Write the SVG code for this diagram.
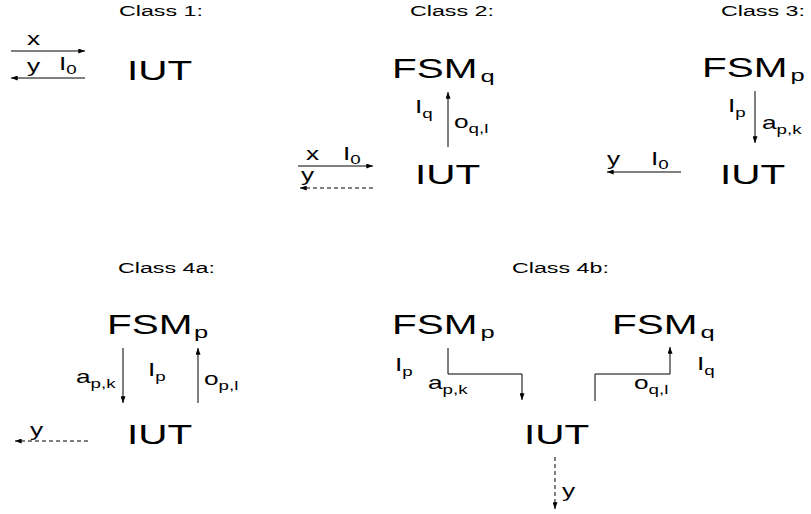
<svg xmlns="http://www.w3.org/2000/svg" width="811" height="514" viewBox="0 0 811 514">
<style>
text{font-family:"Liberation Sans",Arial,sans-serif;fill:#000}
.title{font-size:15.5px}
.big{font-size:27px}
.bsub{font-size:17px}
.lbl{font-size:17.5px}
.sub{font-size:12.5px}
.ln{stroke:#000;stroke-width:1;fill:none}
.ds{stroke-dasharray:4 3}
</style>
<defs>
<marker id="ah" viewBox="0 0 8 6" refX="8" refY="3" markerWidth="7" markerHeight="5" orient="auto" markerUnits="userSpaceOnUse"><path d="M0,0L8,3L0,6z" fill="#000"/></marker>
</defs>
<rect width="811" height="514" fill="#fff"/>
<g id="titles">
<text class="title" transform="matrix(1.5 0 0 1 119 16)">Class 1:</text>
<text class="title" transform="matrix(1.5 0 0 1 410 16)">Class 2:</text>
<text class="title" transform="matrix(1.5 0 0 1 721 16)">Class 3:</text>
<text class="title" transform="matrix(1.5 0 0 1 118 273)">Class 4a:</text>
<text class="title" transform="matrix(1.5 0 0 1 512 273)">Class 4b:</text>
</g>
<g id="iut1"><text class="big" transform="matrix(1.5 0 0 1 127 80)">IUT</text></g>
<g id="fsmq2"><text class="big" transform="matrix(1.5 0 0 1 392 78)">FSM<tspan class="bsub" dx="2" dy="4">q</tspan></text></g>
<g id="iut2"><text class="big" transform="matrix(1.5 0 0 1 415 184)">IUT</text></g>
<g id="fsmp3"><text class="big" transform="matrix(1.5 0 0 1 702 77)">FSM<tspan class="bsub" dx="2" dy="4">p</tspan></text></g>
<g id="iut3"><text class="big" transform="matrix(1.5 0 0 1 720 184)">IUT</text></g>
<g id="fsmp4a"><text class="big" transform="matrix(1.5 0 0 1 107 334)">FSM<tspan class="bsub" dx="1" dy="4">p</tspan></text></g>
<g id="iut4a"><text class="big" transform="matrix(1.5 0 0 1 127 444)">IUT</text></g>
<g id="fsmp4b"><text class="big" transform="matrix(1.5 0 0 1 392 334)">FSM<tspan class="bsub" dx="2" dy="4">p</tspan></text></g>
<g id="fsmq4b"><text class="big" transform="matrix(1.5 0 0 1 612 334)">FSM<tspan class="bsub" dx="2" dy="4">q</tspan></text></g>
<g id="iut4b"><text class="big" transform="matrix(1.5 0 0 1 524 444)">IUT</text></g>
<g id="connectors">
<path class="ln" d="M11,51H85" marker-end="url(#ah)"/>
<path class="ln" d="M85,78H11" marker-end="url(#ah)"/>
<path class="ln" d="M448,147V92" marker-end="url(#ah)"/>
<path class="ln" d="M298,166H373" marker-end="url(#ah)"/>
<path class="ln ds" d="M373,188H300" marker-end="url(#ah)"/>
<path class="ln" d="M755,91V143" marker-end="url(#ah)"/>
<path class="ln" d="M681,172H607" marker-end="url(#ah)"/>
<path class="ln" d="M123,348V403" marker-end="url(#ah)"/>
<path class="ln" d="M198,403V348" marker-end="url(#ah)"/>
<path class="ln ds" d="M88,441H15" marker-end="url(#ah)"/>
<path class="ln" d="M448,348V374H522V400" marker-end="url(#ah)"/>
<path class="ln" d="M595,401V374H670V347" marker-end="url(#ah)"/>
<path class="ln ds" d="M555,457V509" marker-end="url(#ah)"/>
</g>
<g id="labels">
<text class="lbl" transform="matrix(1.5 0 0 1 27 45)">x</text>
<text class="lbl" transform="matrix(1.5 0 0 1 27 72)">y</text>
<text class="lbl" transform="matrix(1.5 0 0 1 59 70)">I<tspan class="sub" dy="4">0</tspan></text>
<text class="lbl" transform="matrix(1.5 0 0 1 306 160)">x</text>
<text class="lbl" transform="matrix(1.5 0 0 1 343 160)">I<tspan class="sub" dy="4">0</tspan></text>
<text class="lbl" transform="matrix(1.5 0 0 1 301 181)">y</text>
<text class="lbl" transform="matrix(1.5 0 0 1 415 113)">I<tspan class="sub" dy="5">q</tspan></text>
<text class="lbl" transform="matrix(1.5 0 0 1 454 128)">o<tspan class="sub" dy="5">q,l</tspan></text>
<text class="lbl" transform="matrix(1.5 0 0 1 728 112)">I<tspan class="sub" dy="5">p</tspan></text>
<text class="lbl" transform="matrix(1.5 0 0 1 762 129)">a<tspan class="sub" dy="5">p,k</tspan></text>
<text class="lbl" transform="matrix(1.5 0 0 1 607 165)">y</text>
<text class="lbl" transform="matrix(1.5 0 0 1 651 165)">I<tspan class="sub" dy="4">0</tspan></text>
<text class="lbl" transform="matrix(1.5 0 0 1 76 383)">a<tspan class="sub" dy="5">p,k</tspan></text>
<text class="lbl" transform="matrix(1.5 0 0 1 148 376)">I<tspan class="sub" dy="5">p</tspan></text>
<text class="lbl" transform="matrix(1.5 0 0 1 204 385)">o<tspan class="sub" dy="5">p,l</tspan></text>
<text class="lbl" transform="matrix(1.5 0 0 1 30 436)">y</text>
<text class="lbl" transform="matrix(1.5 0 0 1 395 371)">I<tspan class="sub" dy="5">p</tspan></text>
<text class="lbl" transform="matrix(1.5 0 0 1 428 389)">a<tspan class="sub" dy="5">p,k</tspan></text>
<text class="lbl" transform="matrix(1.5 0 0 1 634 389)">o<tspan class="sub" dy="5">q,l</tspan></text>
<text class="lbl" transform="matrix(1.5 0 0 1 697 370)">I<tspan class="sub" dy="5">q</tspan></text>
<text class="lbl" transform="matrix(1.5 0 0 1 562 497)">y</text>
</g>
</svg>
